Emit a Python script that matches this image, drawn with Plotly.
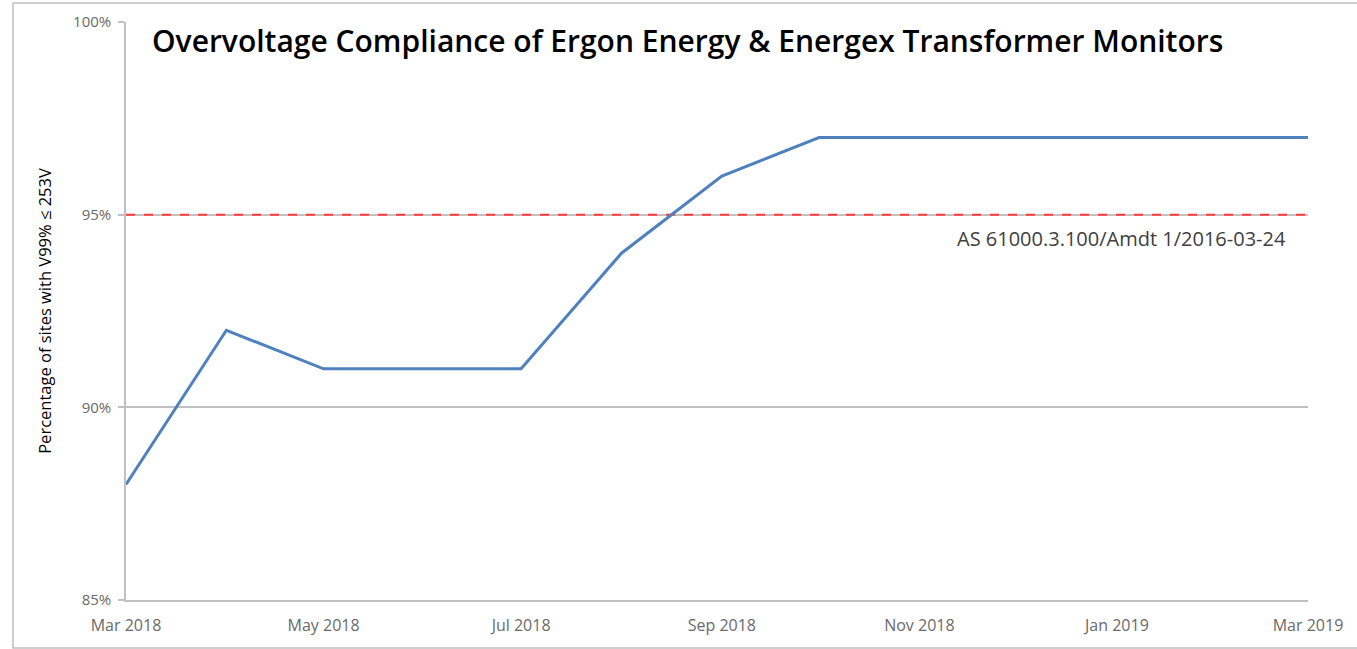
import plotly.graph_objects as go

# ── DATA ──────────────────────────────────────────────────────
months = [
    "2018-03-01", "2018-04-01", "2018-05-01", "2018-06-01", "2018-07-01",
    "2018-08-01", "2018-09-01", "2018-10-01", "2018-11-01", "2018-12-01",
    "2019-01-01", "2019-02-01", "2019-03-01",
]
compliance = [88, 92, 91, 91, 91, 94, 96, 97, 97, 97, 97, 97, 97]

limit_value = 95
limit_label = "AS 61000.3.100/Amdt 1/2016-03-24"

tick_dates = ["2018-03-01", "2018-05-01", "2018-07-01", "2018-09-01",
              "2018-11-01", "2019-01-01", "2019-03-01"]
tick_text = ["Mar 2018", "May 2018", "Jul 2018", "Sep 2018",
             "Nov 2018", "Jan 2019", "Mar 2019"]

title_text = "Overvoltage Compliance of Ergon Energy & Energex Transformer Monitors"
y_title = "Percentage of sites with V99% ≤ 253V"

FONT = "Open Sans, Liberation Sans, sans-serif"
GRID = "#c0c0c0"
TICK = "#6a6a6a"

fig = go.Figure()

# standard limit — red dashed
fig.add_trace(go.Scatter(
    x=[months[0], months[-1]], y=[limit_value, limit_value],
    mode="lines",
    line=dict(color="#ff3b3b", width=2, dash="dash"),
    hoverinfo="skip",
    showlegend=False,
))

# compliance line
fig.add_trace(go.Scatter(
    x=months, y=compliance,
    mode="lines",
    line=dict(color="#4f81bd", width=3),
    showlegend=False,
))

fig.add_annotation(
    x=1.0, xref="paper", xanchor="right", xshift=-20,
    y=limit_value, yref="y", yanchor="top", yshift=-8,
    text=limit_label, showarrow=False,
    font=dict(size=20, color="#404040", family=FONT),
)

fig.add_annotation(
    x=0.020, xref="paper", xanchor="left",
    y=1.0, yref="paper", yanchor="top", yshift=4,
    text=title_text, showarrow=False,
    font=dict(size=30, color="#000000", family=FONT, weight=600),
)

# outer frame round the whole chart
fig.add_shape(
    type="rect", xref="paper", yref="paper",
    x0=-0.0956, x1=1.05, y0=-0.083, y1=1.033,
    line=dict(color="#bfbfbf", width=1.5),
)

fig.update_layout(
    width=1357, height=649,
    paper_bgcolor="white", plot_bgcolor="white",
    font=dict(family=FONT, color=TICK, size=15),
    margin=dict(l=126, r=49, t=22, b=49),
    xaxis=dict(
        range=[months[0], months[-1]],
        tickvals=tick_dates, ticktext=tick_text,
        showgrid=False, zeroline=False,
        showline=True, linecolor=GRID, linewidth=1.5,
        ticks="", ticklabelstandoff=10,
        tickfont=dict(size=16, color=TICK),
    ),
    yaxis=dict(
        range=[85, 100], dtick=5, ticksuffix="%",
        showgrid=True, gridcolor=GRID, gridwidth=1.5,
        zeroline=False,
        showline=True, linecolor=GRID, linewidth=1.5,
        ticks="outside", ticklen=6, tickcolor=GRID, tickwidth=1.5,
        ticklabelstandoff=4,
        tickfont=dict(size=15, color=TICK),
        title=dict(text=y_title, font=dict(size=16.5, color="#000000"), standoff=17),
    ),
)

fig.write_html("out.html", config={"displayModeBar": False},
               post_script="document.body.style.margin='0';")
